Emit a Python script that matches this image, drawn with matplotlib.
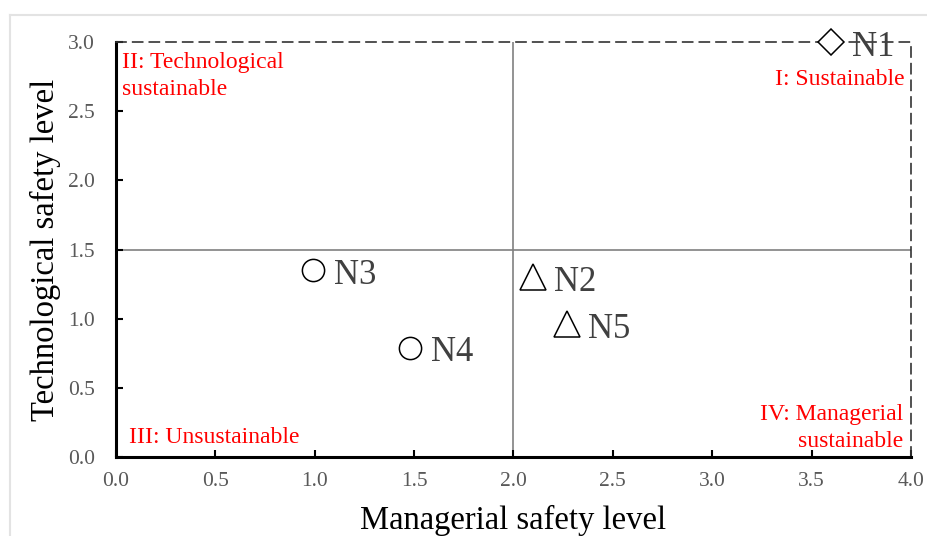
import matplotlib.pyplot as plt
from matplotlib.lines import Line2D

plt.rcParams['font.family'] = ['Liberation Serif', 'DejaVu Serif']

# data
names = ['N1', 'N2', 'N3', 'N4', 'N5']
managerial = [3.6, 2.1, 0.99, 1.48, 2.27]
technological = [3.0, 1.30, 1.35, 0.79, 0.96]
markers = ['D', '^', 'o', 'o', '^']
x_ticks = [0.0, 0.5, 1.0, 1.5, 2.0, 2.5, 3.0, 3.5, 4.0]
y_ticks = [0.0, 0.5, 1.0, 1.5, 2.0, 2.5, 3.0]
split_x = 2.0
split_y = 1.5

fig = plt.figure(figsize=(9.27, 5.36), dpi=100)
ax = fig.add_axes([0.1251, 0.1474, 0.8576, 0.7742])

# light frame around the picture
fig.add_artist(Line2D([10/927, 10/927], [0, 1-15/536], transform=fig.transFigure,
                      color='#e3e3e3', lw=1.5))
fig.add_artist(Line2D([10/927, 1], [1-15/536, 1-15/536], transform=fig.transFigure,
                      color='#e3e3e3', lw=1.5))

# quadrant split lines
ax.plot([0, 4], [split_y, split_y], color='#808080', lw=1.2, zorder=1)
ax.plot([split_x, split_x], [0, 3], color='#808080', lw=1.2, zorder=1)

msize = {'D': 13, '^': 18.5, 'o': 16}
for n, x, y, m in zip(names, managerial, technological, markers):
    ax.plot(x, y, marker=m, ms=msize[m], mfc='white', mec='black', mew=1.1,
            ls='none', zorder=3, clip_on=False)
    ax.annotate(n, (x, y), xytext=(21, -5), textcoords='offset pixels',
                fontsize=25, color='#404040', va='center', ha='left')

ax.set_xlim(0, 4)
ax.set_ylim(0, 3)
ax.set_xticks(x_ticks)
ax.set_yticks(y_ticks)
ax.set_xticklabels([f'{v:.1f}' for v in x_ticks])
ax.set_yticklabels([f'{v:.1f}' for v in y_ticks])
ax.tick_params(direction='in', length=5, width=1.5, labelsize=15.5,
               labelcolor='#595959', color='black')
ax.tick_params(axis='x', pad=11)
ax.tick_params(axis='y', pad=15)

for s in ['left', 'bottom']:
    ax.spines[s].set_linewidth(2.2)
    ax.spines[s].set_color('black')
for s in ['top', 'right']:
    ax.spines[s].set_linestyle((0, (6, 4)))
    ax.spines[s].set_linewidth(1.2)
    ax.spines[s].set_color('#333333')

ax.set_xlabel('Managerial safety level', fontsize=23.5, labelpad=10)
ax.set_ylabel('Technological safety level', fontsize=23.5, labelpad=5)

red = '#ff0000'
ax.text(0.008, 0.975, 'II: Technological\nsustainable', transform=ax.transAxes,
        color=red, fontsize=17, ha='left', va='top', linespacing=1.35)
ax.text(0.9925, 0.935, 'I: Sustainable', transform=ax.transAxes,
        color=red, fontsize=17, ha='right', va='top')
ax.text(0.017, 0.022, 'III: Unsustainable', transform=ax.transAxes,
        color=red, fontsize=17, ha='left', va='bottom')
ax.text(0.99, 0.012, 'IV: Managerial\nsustainable', transform=ax.transAxes,
        color=red, fontsize=17, ha='right', va='bottom', linespacing=1.35)

fig.savefig('out.png', dpi=100)
